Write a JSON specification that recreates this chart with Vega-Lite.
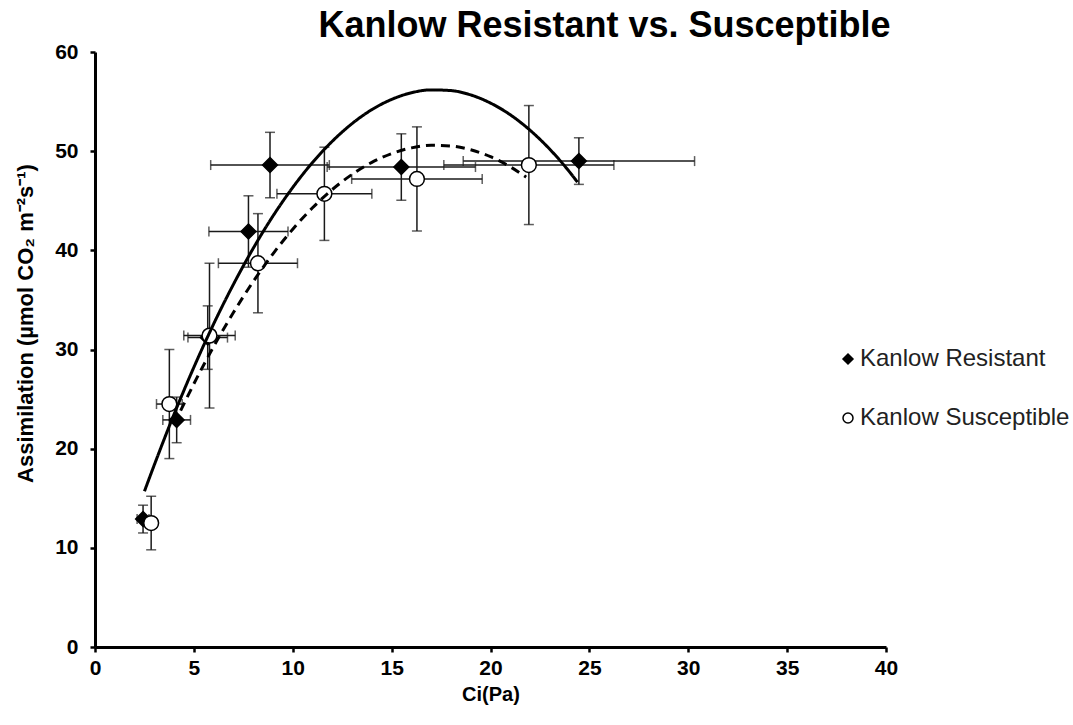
{
"$schema": "https://vega.github.io/schema/vega-lite/v6.json",
"width": 791, "height": 595,
"autosize": {"type": "none"},
"padding": {"left": 95, "top": 52, "right": 187, "bottom": 78},
"background": "white",
"title": {"text": "Kanlow Resistant vs. Susceptible", "font": "Liberation Sans", "fontSize": 36, "fontWeight": "bold", "color": "black", "anchor": "middle", "dx": 114, "offset": -4},
"config": {
  "view": {"stroke": null},
  "axis": {"domainWidth": 3, "domainColor": "black", "tickColor": "black", "tickWidth": 2.5, "tickSize": 5, "labelFont": "Liberation Sans", "labelFontWeight": "bold", "labelFontSize": 21, "labelColor": "black", "titleFont": "Liberation Sans", "titleFontSize": 20, "titleFontWeight": "bold", "titleColor": "black", "grid": false, "labelFlush": false, "labelOverlap": false, "labelBound": false}
},
"datasets": {
  "points": [
    {"series": "Kanlow Resistant", "ci": 2.43, "ciErr": 0.3, "a": 12.9, "aErr": 1.4},
    {"series": "Kanlow Resistant", "ci": 4.13, "ciErr": 0.7, "a": 22.9, "aErr": 2.3},
    {"series": "Kanlow Resistant", "ci": 5.7, "ciErr": 1.0, "a": 31.2, "aErr": 3.2},
    {"series": "Kanlow Resistant", "ci": 7.76, "ciErr": 2.0, "a": 41.9, "aErr": 3.6},
    {"series": "Kanlow Resistant", "ci": 8.85, "ciErr": 3.0, "a": 48.6, "aErr": 3.3},
    {"series": "Kanlow Resistant", "ci": 15.49, "ciErr": 3.75, "a": 48.4, "aErr": 3.35},
    {"series": "Kanlow Resistant", "ci": 24.47, "ciErr": 5.85, "a": 49.0, "aErr": 2.35},
    {"series": "Kanlow Susceptible", "ci": 2.84, "ciErr": 0.3, "a": 12.5, "aErr": 2.7},
    {"series": "Kanlow Susceptible", "ci": 3.76, "ciErr": 0.65, "a": 24.5, "aErr": 5.5},
    {"series": "Kanlow Susceptible", "ci": 5.79, "ciErr": 1.3, "a": 31.4, "aErr": 7.3},
    {"series": "Kanlow Susceptible", "ci": 8.24, "ciErr": 2.0, "a": 38.7, "aErr": 5.0},
    {"series": "Kanlow Susceptible", "ci": 11.6, "ciErr": 2.4, "a": 45.7, "aErr": 4.7},
    {"series": "Kanlow Susceptible", "ci": 16.28, "ciErr": 3.3, "a": 47.2, "aErr": 5.25},
    {"series": "Kanlow Susceptible", "ci": 21.94, "ciErr": 4.3, "a": 48.6, "aErr": 6.0}
  ],
  "curves": [
    {"fit": "Resistant fit", "ci": 2.5, "a": 15.7},
    {"fit": "Resistant fit", "ci": 3, "a": 18.37},
    {"fit": "Resistant fit", "ci": 4, "a": 23.48},
    {"fit": "Resistant fit", "ci": 5, "a": 28.21},
    {"fit": "Resistant fit", "ci": 6, "a": 32.58},
    {"fit": "Resistant fit", "ci": 7, "a": 36.57},
    {"fit": "Resistant fit", "ci": 8, "a": 40.2},
    {"fit": "Resistant fit", "ci": 9, "a": 43.46},
    {"fit": "Resistant fit", "ci": 10, "a": 46.34},
    {"fit": "Resistant fit", "ci": 11, "a": 48.86},
    {"fit": "Resistant fit", "ci": 12, "a": 51.0},
    {"fit": "Resistant fit", "ci": 13, "a": 52.78},
    {"fit": "Resistant fit", "ci": 14, "a": 54.19},
    {"fit": "Resistant fit", "ci": 15, "a": 55.22},
    {"fit": "Resistant fit", "ci": 16, "a": 55.89},
    {"fit": "Resistant fit", "ci": 17, "a": 56.18},
    {"fit": "Resistant fit", "ci": 18, "a": 56.11},
    {"fit": "Resistant fit", "ci": 19, "a": 55.67},
    {"fit": "Resistant fit", "ci": 20, "a": 54.85},
    {"fit": "Resistant fit", "ci": 21, "a": 53.67},
    {"fit": "Resistant fit", "ci": 22, "a": 52.11},
    {"fit": "Resistant fit", "ci": 23, "a": 50.19},
    {"fit": "Resistant fit", "ci": 24, "a": 47.9},
    {"fit": "Resistant fit", "ci": 24.4, "a": 46.87},
    {"fit": "Susceptible fit", "ci": 4, "a": 22.47},
    {"fit": "Susceptible fit", "ci": 5, "a": 26.54},
    {"fit": "Susceptible fit", "ci": 6, "a": 30.3},
    {"fit": "Susceptible fit", "ci": 7, "a": 33.73},
    {"fit": "Susceptible fit", "ci": 8, "a": 36.85},
    {"fit": "Susceptible fit", "ci": 9, "a": 39.65},
    {"fit": "Susceptible fit", "ci": 10, "a": 42.13},
    {"fit": "Susceptible fit", "ci": 11, "a": 44.29},
    {"fit": "Susceptible fit", "ci": 12, "a": 46.13},
    {"fit": "Susceptible fit", "ci": 13, "a": 47.66},
    {"fit": "Susceptible fit", "ci": 14, "a": 48.87},
    {"fit": "Susceptible fit", "ci": 15, "a": 49.76},
    {"fit": "Susceptible fit", "ci": 16, "a": 50.33},
    {"fit": "Susceptible fit", "ci": 17, "a": 50.59},
    {"fit": "Susceptible fit", "ci": 18, "a": 50.52},
    {"fit": "Susceptible fit", "ci": 19, "a": 50.14},
    {"fit": "Susceptible fit", "ci": 20, "a": 49.44},
    {"fit": "Susceptible fit", "ci": 21, "a": 48.42},
    {"fit": "Susceptible fit", "ci": 21.8, "a": 47.38}
  ]
},
"layer": [
  {
    "data": {"name": "points"},
    "mark": {"type": "errorbar", "color": "#1a1a1a", "thickness": 1.5, "ticks": {"size": 10, "thickness": 1.5}},
    "encoding": {
      "x": {"field": "ci", "type": "quantitative", "title": "Ci(Pa)", "scale": {"domain": [0, 40], "nice": false}, "axis": {"values": [0, 5, 10, 15, 20, 25, 30, 35, 40], "labelPadding": 5, "titlePadding": 6}},
      "y": {"field": "a", "type": "quantitative", "title": "Assimilation (µmol CO₂ m⁻²s⁻¹)", "scale": {"domain": [0, 60], "nice": false}, "axis": {"values": [0, 10, 20, 30, 40, 50, 60], "labelPadding": 12, "titleX": -70, "titleY": 271, "titleAlign": "center", "titleBaseline": "middle", "titleAngle": -90, "titleFontSize": 22}},
      "yError": {"field": "aErr"}
    }
  },
  {
    "data": {"name": "points"},
    "mark": {"type": "errorbar", "color": "#1a1a1a", "thickness": 1.5, "ticks": {"size": 10, "thickness": 1.5}},
    "encoding": {
      "y": {"field": "a", "type": "quantitative", "title": "Assimilation (µmol CO₂ m⁻²s⁻¹)"},
      "x": {"field": "ci", "type": "quantitative", "title": "Ci(Pa)"},
      "xError": {"field": "ciErr"}
    }
  },
  {
    "data": {"name": "points"},
    "mark": {"type": "point", "filled": true, "strokeWidth": 1.5, "size": 220, "opacity": 1},
    "encoding": {
      "x": {"field": "ci", "type": "quantitative", "title": "Ci(Pa)"},
      "y": {"field": "a", "type": "quantitative", "title": "Assimilation (µmol CO₂ m⁻²s⁻¹)"},
      "shape": {"field": "series", "type": "nominal", "title": null, "scale": {"domain": ["Kanlow Resistant", "Kanlow Susceptible"], "range": ["diamond", "circle"]}, "legend": {"orient": "none", "legendX": 741, "legendY": 295, "labelFont": "Liberation Sans", "labelFontSize": 24, "labelColor": "#222", "labelLimit": 400, "symbolSize": 100, "rowPadding": 35, "labelOffset": 0, "symbolStrokeWidth": 1.5}},
      "fill": {"field": "series", "type": "nominal", "title": null, "scale": {"domain": ["Kanlow Resistant", "Kanlow Susceptible"], "range": ["black", "white"]}, "legend": {"orient": "none", "legendX": 741, "legendY": 295, "labelFont": "Liberation Sans", "labelFontSize": 24, "labelColor": "#222", "labelLimit": 400, "symbolSize": 100, "rowPadding": 35, "labelOffset": 0, "symbolStrokeWidth": 1.5}},
      "stroke": {"field": "series", "type": "nominal", "title": null, "scale": {"domain": ["Kanlow Resistant", "Kanlow Susceptible"], "range": ["black", "black"]}, "legend": {"orient": "none", "legendX": 741, "legendY": 295, "labelFont": "Liberation Sans", "labelFontSize": 24, "labelColor": "#222", "labelLimit": 400, "symbolSize": 100, "rowPadding": 35, "labelOffset": 0, "symbolStrokeWidth": 1.5}}
    }
  },
  {
    "data": {"name": "curves"},
    "mark": {"type": "line", "color": "black", "strokeWidth": 3, "interpolate": "monotone"},
    "encoding": {
      "x": {"field": "ci", "type": "quantitative", "title": "Ci(Pa)"},
      "y": {"field": "a", "type": "quantitative", "title": "Assimilation (µmol CO₂ m⁻²s⁻¹)"},
      "detail": {"field": "fit"},
      "strokeDash": {"field": "fit", "type": "nominal", "legend": null, "scale": {"domain": ["Resistant fit", "Susceptible fit"], "range": [[1, 0], [9, 6]]}}
    }
  }
]
}
